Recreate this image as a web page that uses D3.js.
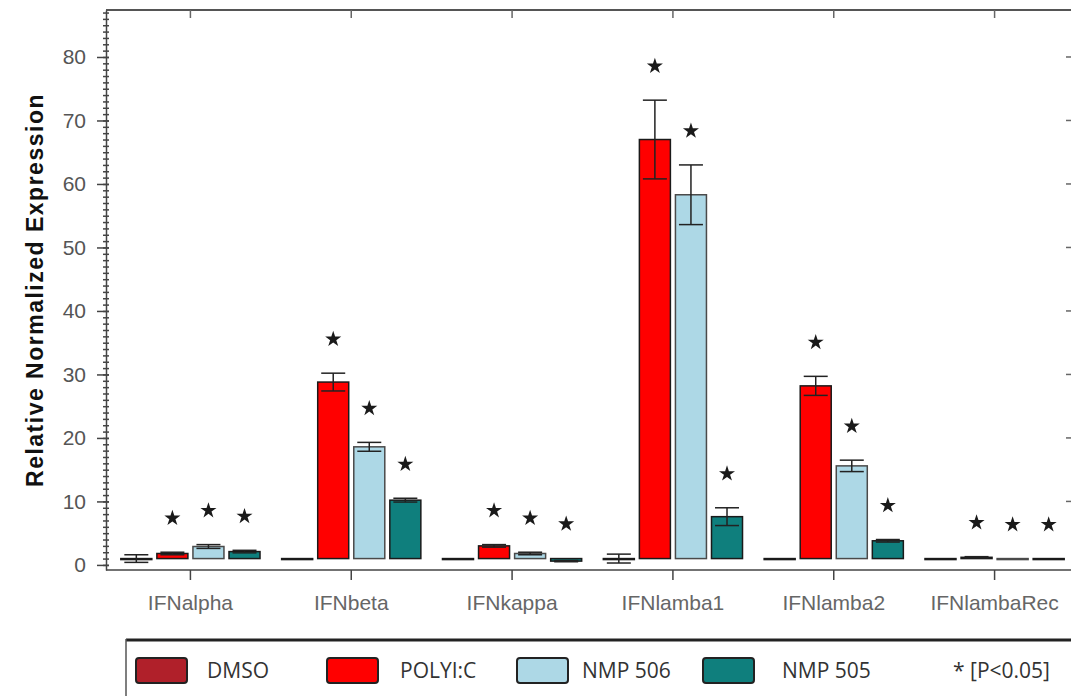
<!DOCTYPE html>
<html>
<head>
<meta charset="utf-8">
<script src="https://cdn.jsdelivr.net/npm/d3@7"></script>
<style>
  body { margin: 0; background: #fff; }
  svg { display: block; }
</style>
</head>
<body>
<div id="chart"></div>
<script>
// Data
const categories = ["IFNalpha", "IFNbeta", "IFNkappa", "IFNlamba1", "IFNlamba2", "IFNlambaRec"];
const seriesNames = ["DMSO", "POLYI:C", "NMP 506", "NMP 505"];

const dmsoValues   = [1.0, 1.0, 1.0, 1.0, 1.0, 1.0];
const dmsoErrors   = [0.6, 0.0, 0.0, 0.7, 0.0, 0.0];
const polyicValues = [1.8, 28.8, 3.0, 67.0, 28.2, 1.2];
const polyicErrors = [0.2, 1.4, 0.2, 6.2, 1.5, 0.1];
const nmp506Values = [2.9, 18.6, 1.8, 58.3, 15.6, 1.0];
const nmp506Errors = [0.3, 0.7, 0.2, 4.7, 0.9, 0.0];
const nmp505Values = [2.1, 10.2, 0.6, 7.6, 3.8, 1.0];
const nmp505Errors = [0.2, 0.3, 0.1, 1.4, 0.2, 0.0];
// significance marks (* P<0.05) per series
const significant = [false, true, true, true];

const yTickLabels = [0, 10, 20, 30, 40, 50, 60, 70, 80];

const seriesValues = [dmsoValues, polyicValues, nmp506Values, nmp505Values];
const seriesErrors = [dmsoErrors, polyicErrors, nmp506Errors, nmp505Errors];
const colors  = ["#b0202a", "#ff0000", "#add8e6", "#0f7f7d"];
const strokes = ["#1a1a1a", "#1a1a1a", "#4a4a4a", "#1a1a1a"];

const width = 1071, height = 696;
const baseValue = 1; // bars grow from 1 (normalised to DMSO)

const svg = d3.select("#chart")
    .append("svg")
    .attr("width", width)
    .attr("height", height);

// Scales
const x = d3.scaleBand()
    .domain(categories)
    .range([110, 1075]);

const xSub = d3.scaleBand()
    .domain(seriesNames)
    .range([0, x.bandwidth()])
    .paddingInner(0.14)
    .paddingOuter(0.3);

const y = d3.scaleLinear()
    .domain([-0.8, 87.4])
    .range([570, 10]);

const axisColor = "#444";

// Frame: top line and right side
svg.append("line")
    .attr("x1", 106).attr("x2", width + 5)
    .attr("y1", 10).attr("y2", 10)
    .attr("stroke", "#555").attr("stroke-width", 2);

svg.append("g")
    .selectAll("line")
    .data(categories)
    .enter().append("line")
    .attr("x1", d => x(d) + x.bandwidth() / 2)
    .attr("x2", d => x(d) + x.bandwidth() / 2)
    .attr("y1", 10).attr("y2", 18)
    .attr("stroke", "#666").attr("stroke-width", 1.5);

svg.append("g")
    .selectAll("line")
    .data(yTickLabels.slice(1))
    .enter().append("line")
    .attr("x1", 1066).attr("x2", 1073)
    .attr("y1", d => y(d)).attr("y2", d => y(d))
    .attr("stroke", "#666").attr("stroke-width", 1.5);

// Left axis: minor ticks
const minorTicks = d3.range(0, 88, 1);
const minorAxis = svg.append("g")
    .attr("transform", "translate(106,0)")
    .call(d3.axisLeft(y).tickValues(minorTicks).tickSize(3).tickFormat(""));
minorAxis.select(".domain").remove();
minorAxis.selectAll("line")
    .attr("x1", -3).attr("x2", 3)
    .attr("stroke", axisColor).attr("stroke-width", 1.5);

// Left axis: major ticks and labels
const yAxis = svg.append("g")
    .attr("transform", "translate(106,0)")
    .call(d3.axisLeft(y).tickValues(yTickLabels).tickSize(9).tickSizeOuter(0));
yAxis.select(".domain").attr("stroke", axisColor).attr("stroke-width", 1.5);
yAxis.selectAll(".tick line")
    .attr("x1", 3)
    .attr("stroke", axisColor).attr("stroke-width", 1.5);
yAxis.selectAll("text")
    .attr("x", -20)
    .attr("fill", "#555")
    .style("font-family", "'Liberation Sans', Arial, sans-serif")
    .style("font-size", "21px");

// X axis
const xAxis = svg.append("g")
    .attr("transform", "translate(0,570)")
    .call(d3.axisBottom(x).tickSize(10).tickSizeOuter(0));
xAxis.select(".domain")
    .attr("d", `M106,0H${width + 5}`)
    .attr("stroke", axisColor).attr("stroke-width", 1.5);
xAxis.selectAll(".tick line").attr("stroke", axisColor).attr("stroke-width", 1.5);
xAxis.selectAll("text")
    .attr("y", 25)
    .attr("dy", "0.71em")
    .attr("fill", "#666")
    .style("font-family", "'Liberation Sans', Arial, sans-serif")
    .style("font-size", "21px");

// Y axis title
svg.append("text")
    .attr("transform", "translate(43,290) rotate(-90)")
    .attr("text-anchor", "middle")
    .style("font-family", "'Liberation Sans', Arial, sans-serif")
    .style("font-weight", "bold")
    .style("font-size", "23px")
    .style("letter-spacing", "1.5px")
    .attr("fill", "#111")
    .text("Relative Normalized Expression");

// Flatten data
const rows = [];
categories.forEach((cat, i) => {
    seriesNames.forEach((name, j) => {
        rows.push({
            cat: cat, name: name, j: j,
            value: seriesValues[j][i],
            err: seriesErrors[j][i],
            sig: significant[j]
        });
    });
});

const cx = d => x(d.cat) + xSub(d.name) + xSub.bandwidth() / 2;

// Bars
svg.append("g")
    .selectAll(".bar")
    .data(rows)
    .enter().append("rect")
    .attr("class", "bar")
    .attr("x", d => x(d.cat) + xSub(d.name))
    .attr("y", d => Math.min(y(d.value), y(baseValue)))
    .attr("width", xSub.bandwidth())
    .attr("height", d => Math.max(Math.abs(y(d.value) - y(baseValue)), 1))
    .attr("fill", d => colors[d.j])
    .attr("stroke", d => strokes[d.j])
    .attr("stroke-width", 1.5);

// Error bars
const errRows = rows.filter(d => d.err > 0);
const capHalf = 12;
const errG = svg.append("g")
    .attr("stroke", "#222")
    .attr("stroke-width", 1.5);

errG.selectAll(".err-v")
    .data(errRows)
    .enter().append("line")
    .attr("x1", cx).attr("x2", cx)
    .attr("y1", d => y(d.value + d.err))
    .attr("y2", d => y(d.value - d.err));

errG.selectAll(".err-top")
    .data(errRows)
    .enter().append("line")
    .attr("x1", d => cx(d) - capHalf).attr("x2", d => cx(d) + capHalf)
    .attr("y1", d => y(d.value + d.err)).attr("y2", d => y(d.value + d.err));

errG.selectAll(".err-bot")
    .data(errRows)
    .enter().append("line")
    .attr("x1", d => cx(d) - capHalf).attr("x2", d => cx(d) + capHalf)
    .attr("y1", d => y(d.value - d.err)).attr("y2", d => y(d.value - d.err));

// Significance stars
svg.append("g")
    .selectAll(".star")
    .data(rows.filter(d => d.sig))
    .enter().append("path")
    .attr("class", "star")
    .attr("d", d3.symbol(d3.symbolStar, 80))
    .attr("transform", d => `translate(${cx(d)},${y(Math.max(d.value, baseValue) + d.err) - 34})`)
    .attr("fill", "#1a1a1a");

// Legend
const legend = svg.append("g");
legend.append("line")
    .attr("x1", 126).attr("x2", width + 5)
    .attr("y1", 640).attr("y2", 640)
    .attr("stroke", "#222").attr("stroke-width", 3);
legend.append("line")
    .attr("x1", 126).attr("x2", 126)
    .attr("y1", 639).attr("y2", height + 5)
    .attr("stroke", "#555").attr("stroke-width", 1.5);

const swatchX = [136, 327, 517, 703];
const labelX  = [207, 400, 582, 782];

legend.selectAll(".swatch")
    .data(seriesNames)
    .enter().append("rect")
    .attr("x", (d, i) => swatchX[i])
    .attr("y", 658)
    .attr("width", 51)
    .attr("height", 25)
    .attr("rx", 3)
    .attr("fill", (d, i) => colors[i])
    .attr("stroke", "#222")
    .attr("stroke-width", 2);

legend.selectAll(".label")
    .data(seriesNames)
    .enter().append("text")
    .attr("x", (d, i) => labelX[i])
    .attr("y", 671)
    .attr("dy", "0.35em")
    .attr("fill", "#333")
    .style("font-family", "'Open Sans', sans-serif")
    .style("font-size", "21px")
    .text(d => d);

legend.append("text")
    .attr("x", 953)
    .attr("y", 671)
    .attr("dy", "0.35em")
    .attr("fill", "#333")
    .style("font-family", "'Open Sans', sans-serif")
    .style("font-size", "21px")
    .text("* [P<0.05]");
</script>
</body>
</html>
